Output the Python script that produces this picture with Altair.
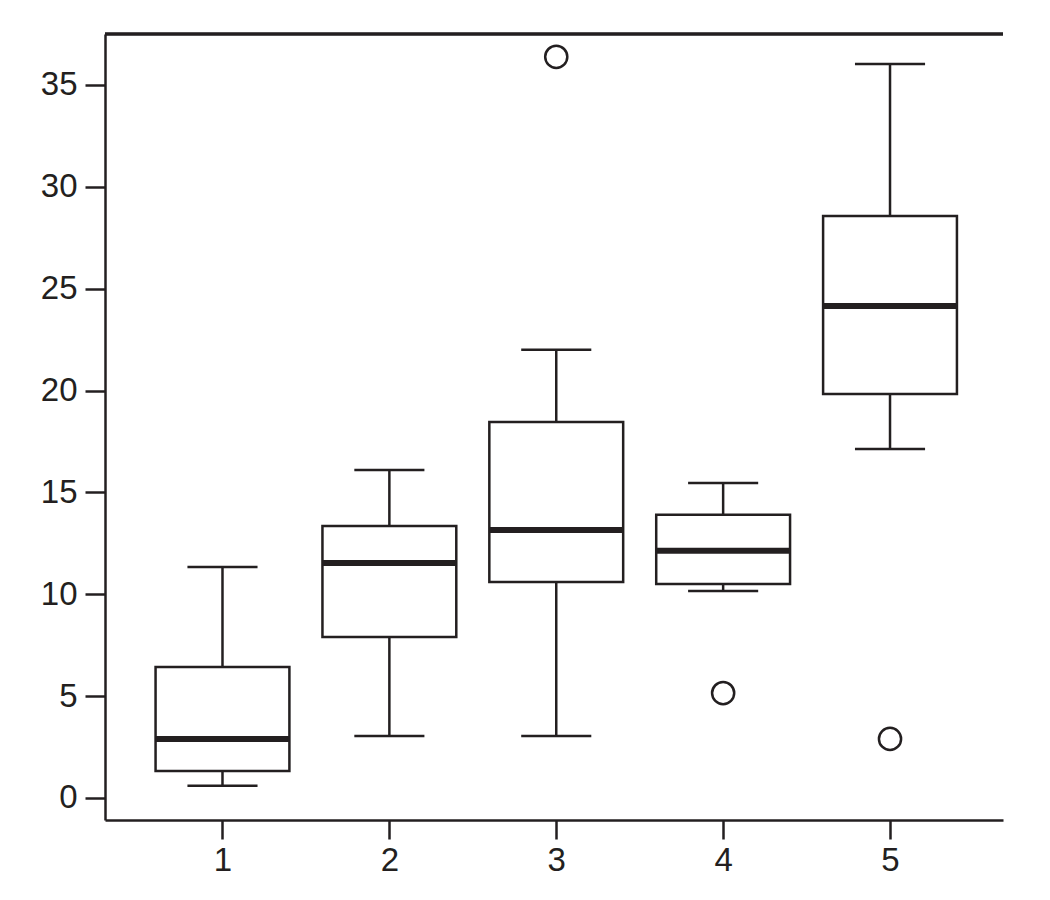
import altair as alt
import pandas as pd

groups = [1, 2, 3, 4, 5]
lower = [0.6, 3.04, 3.04, 10.16, 17.13]
q1 = [1.33, 7.9, 10.6, 10.5, 19.83]
median = [2.9, 11.54, 13.16, 12.13, 24.15]
q3 = [6.43, 13.35, 18.46, 13.9, 28.57]
upper = [11.34, 16.1, 22.0, 15.46, 36.03]

outlier_groups = [3, 4, 5]
outlier_values = [36.38, 5.15, 2.9]

y_ticks = [0, 5, 10, 15, 20, 25, 30, 35]

INK = "#231f20"
W, H = 898, 786
SW = 2.5

df = pd.DataFrame({"g": groups, "lower": lower, "q1": q1, "median": median,
                   "q3": q3, "upper": upper})
out = pd.DataFrame({"g": outlier_groups, "v": outlier_values})

xs = alt.Scale(domain=[0.296, 5.677], nice=False, zero=False)
ys = alt.Scale(domain=[-1.08, 37.5], nice=False, zero=False)

xaxis = alt.Axis(values=groups, format="d", title=None, grid=False, tickSize=19,
                 tickWidth=SW, domainWidth=SW, domainColor=INK, tickColor=INK,
                 labelColor=INK, labelFontSize=33, labelPadding=5,
                 labelFont="Liberation Sans")
yaxis = alt.Axis(values=y_ticks, format="d", title=None, grid=False, tickSize=20,
                 tickWidth=SW, domainWidth=SW, domainColor=INK, tickColor=INK,
                 labelColor=INK, labelFontSize=33, labelPadding=8,
                 labelFont="Liberation Sans")

base = alt.Chart(df).transform_calculate(
    blo="datum.g - 0.401", bhi="datum.g + 0.401",
    clo="datum.g - 0.21", chi="datum.g + 0.21",
)

whisk_up = base.mark_rule(color=INK, strokeWidth=SW).encode(
    x=alt.X("g:Q", scale=xs, axis=xaxis),
    y=alt.Y("q3:Q", scale=ys, axis=yaxis),
    y2="upper:Q",
)
whisk_lo = base.mark_rule(color=INK, strokeWidth=SW).encode(
    x=alt.X("g:Q", scale=xs), y=alt.Y("lower:Q", scale=ys), y2="q1:Q")
cap_up = base.mark_rule(color=INK, strokeWidth=SW).encode(
    x=alt.X("clo:Q", scale=xs), x2="chi:Q", y=alt.Y("upper:Q", scale=ys))
cap_lo = base.mark_rule(color=INK, strokeWidth=SW).encode(
    x=alt.X("clo:Q", scale=xs), x2="chi:Q", y=alt.Y("lower:Q", scale=ys))
box = base.mark_rect(fill="white", stroke=INK, strokeWidth=SW).encode(
    x=alt.X("blo:Q", scale=xs), x2="bhi:Q",
    y=alt.Y("q1:Q", scale=ys), y2="q3:Q")
med = base.mark_rule(color=INK, strokeWidth=6).encode(
    x=alt.X("blo:Q", scale=xs), x2="bhi:Q", y=alt.Y("median:Q", scale=ys))
pts = alt.Chart(out).mark_point(shape="circle", size=490, filled=False,
                                color=INK, strokeWidth=SW, opacity=1).encode(
    x=alt.X("g:Q", scale=xs), y=alt.Y("v:Q", scale=ys))
top = alt.Chart(df).mark_rule(color=INK, strokeWidth=SW).encode(
    x=alt.value(0), x2=alt.value(W), y=alt.value(0))

chart = alt.layer(whisk_up, whisk_lo, cap_up, cap_lo, box, med, pts, top).properties(
    width=W, height=H, padding={"left": 32, "top": 24, "right": 5, "bottom": 5},
    background="white",
).configure_view(stroke=None)

chart.save("out.html", embed_options={"renderer": "svg", "actions": False})
